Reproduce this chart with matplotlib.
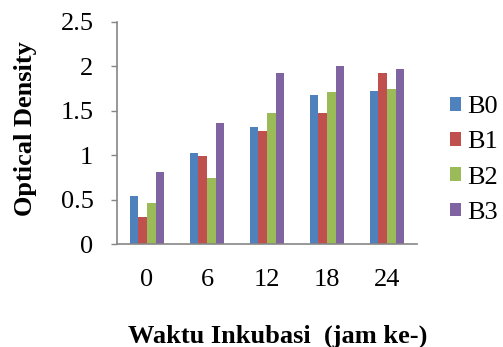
import matplotlib
matplotlib.use("Agg")
import matplotlib.pyplot as plt
import numpy as np

plt.rcParams['font.family'] = ['Liberation Serif', 'DejaVu Serif']

# data
jam = ["0", "6", "12", "18", "24"]
seri = ["B0", "B1", "B2", "B3"]
b0 = [0.54, 1.02, 1.32, 1.68, 1.72]
b1 = [0.30, 0.99, 1.27, 1.48, 1.93]
b2 = [0.46, 0.74, 1.48, 1.71, 1.75]
b3 = [0.81, 1.36, 1.93, 2.00, 1.97]
renk = ["#4F81BD", "#C0504D", "#9BBB59", "#8064A2"]

fig = plt.figure(figsize=(5.03, 3.47), dpi=100)
ax = fig.add_axes([0.2326, 0.2968, 0.5964, 0.6398])

x = np.arange(len(jam))
w = 0.142
for i, (vals, ad) in enumerate(zip([b0, b1, b2, b3], seri)):
    ax.bar(x + (i - 1.5) * w, vals, w, color=renk[i], label=ad)

ax.set_xlim(-0.5, 4.5)
ax.set_ylim(0, 2.5)
ax.set_yticks([0, 0.5, 1, 1.5, 2, 2.5])
ax.set_yticklabels(["0", "0.5", "1", "1.5", "2", "2.5"])
ax.set_xticks(x)
ax.set_xticklabels(jam)
ax.tick_params(axis="x", length=0, pad=18, labelsize=19)
ax.tick_params(axis="y", length=4, width=1, color="#868686", pad=13, labelsize=19)

for s in ["top", "right"]:
    ax.spines[s].set_visible(False)
for s in ["left", "bottom"]:
    ax.spines[s].set_color("#868686")
    ax.spines[s].set_linewidth(1.2)

ax.set_xlabel("Waktu Inkubasi  (jam ke-)", fontsize=19, fontweight="bold", labelpad=24)
ax.xaxis.label.set_x(0.535)
ax.set_ylabel("Optical Density", fontsize=19, fontweight="bold", labelpad=17)
ax.yaxis.label.set_y(0.52)

# legenda
ax.legend(loc="center left", bbox_to_anchor=(450 / 503, 1 - 160 / 347),
          bbox_transform=fig.transFigure, frameon=False, fontsize=19,
          borderpad=0, borderaxespad=0,
          handlelength=0.42, handleheight=0.42, handletextpad=0.23, labelspacing=0.5)

fig.savefig("out.png", dpi=100)
